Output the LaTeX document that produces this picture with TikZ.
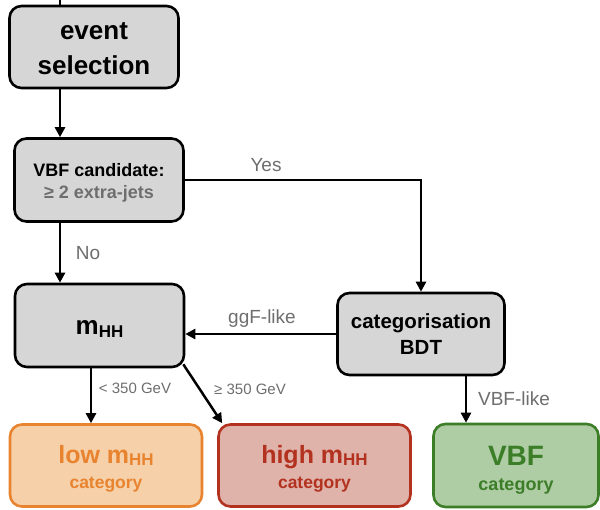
\documentclass[tikz,border=0pt]{standalone}
\usepackage{fontspec}
\setmainfont{Liberation Sans}
\usetikzlibrary{arrows.meta}
\definecolor{boxgray}{HTML}{D6D6D6}
\definecolor{lblgray}{HTML}{6E6E6E}
\definecolor{loworange}{HTML}{E8832F}
\definecolor{lowfill}{HTML}{F6D0A9}
\definecolor{highred}{HTML}{B3321F}
\definecolor{highfill}{HTML}{DFB2AA}
\definecolor{vbfgreen}{HTML}{3C7D28}
\definecolor{vbffill}{HTML}{AECDA5}
\newcommand\fsz[2]{\fontsize{#1}{#2}\selectfont}
\newcommand\subHH[2]{\raisebox{-#2}{\fsz{#1}{#1}HH}}
\newcommand\strutof[1]{\rule{0pt}{#1}}
\begin{document}
\begin{tikzpicture}[x=1pt,y=-1pt,
  box/.style={draw, line width=2.6pt, rounded corners=12pt, align=center, inner sep=0pt},
  graybox/.style={box, fill=boxgray, draw=black},
  arr/.style={line width=2.5pt, -{Triangle[length=10pt,width=10pt]}},
  lbl/.style={text=lblgray, inner sep=0pt, font=\fsz{19}{19}},
  slbl/.style={text=lblgray, inner sep=0pt, font=\fsz{15}{15}}
]
\useasboundingbox (0,0) rectangle (600,509);
\fill[white] (0,0) rectangle (600,509);

\node[graybox, minimum width=169pt, minimum height=82pt, font=\fsz{26}{35}\bfseries] (event) at (94,47) {\strutof{20.6pt}event\\selection};
\node[graybox, minimum width=169pt, minimum height=83pt, font=\fsz{18}{22}\bfseries] (vbfc) at (99,180) {\strutof{19.6pt}VBF candidate:\\{\color{lblgray}≥ 2 extra-jets}};
\node[graybox, minimum width=169pt, minimum height=83pt, font=\fsz{26}{30}\bfseries] (mhh) at (99.5,325.5) {\strutof{21pt}m\subHH{17}{3.3pt}};
\node[graybox, minimum width=167pt, minimum height=82pt, font=\fsz{20.5}{26}\bfseries] (bdt) at (421,334) {categorisation\\BDT};

\node[box, draw=loworange, fill=lowfill, text=loworange, minimum width=192pt, minimum height=82pt, font=\fsz{17.5}{25.5}\bfseries] (low) at (106,465.5) {{\fsz{25}{25.5}\bfseries\strutof{25pt}low m\subHH{17}{2pt}}\\category};
\node[box, draw=highred, fill=highfill, text=highred, minimum width=192pt, minimum height=82pt, font=\fsz{17.5}{25.5}\bfseries] (high) at (314.5,465.5) {{\fsz{25}{25.5}\bfseries\strutof{25pt}high m\subHH{17}{2pt}}\\category};
\node[box, draw=vbfgreen, fill=vbffill, text=vbfgreen, minimum width=165pt, minimum height=83pt, font=\fsz{18}{25.7}\bfseries] (vbf) at (516,465.5) {{\fsz{28}{25.7}\bfseries\strutof{28.5pt}VBF}\\category};

\coordinate (topstub) at (60,0);
\coordinate (lowx) at (91,0);
\coordinate (vbfx) at (466,0);

\draw[line width=2.5pt] (topstub) -- (topstub |- event.north);
\draw[arr] (event.south -| topstub) -- (vbfc.north -| topstub);
\draw[arr] (vbfc.east) -| (bdt.north);
\draw[arr] (vbfc.south -| topstub) -- (mhh.north -| topstub);
\draw[arr] (bdt.west) -- (bdt.west -| mhh.east);
\draw[arr] (mhh.south -| lowx) -- (low.north -| lowx);
\draw[arr] ([shift={(-2,-4)}]mhh.south east) -- ([xshift=5pt]high.north west);
\draw[arr] (bdt.south -| vbfx) -- (vbf.north -| vbfx);

\node[lbl] (yes) at (266,165) {Yes};
\node[lbl] (no) at (88,253) {No};
\node[lbl] (ggf) at (262,319) {ggF-like};
\node[lbl] (vbflike) at (514,399) {VBF-like};
\node[slbl] (lt) at (135,388) {< 350 GeV};
\node[slbl] (ge) at (250,389) {≥ 350 GeV};
\end{tikzpicture}
\end{document}
